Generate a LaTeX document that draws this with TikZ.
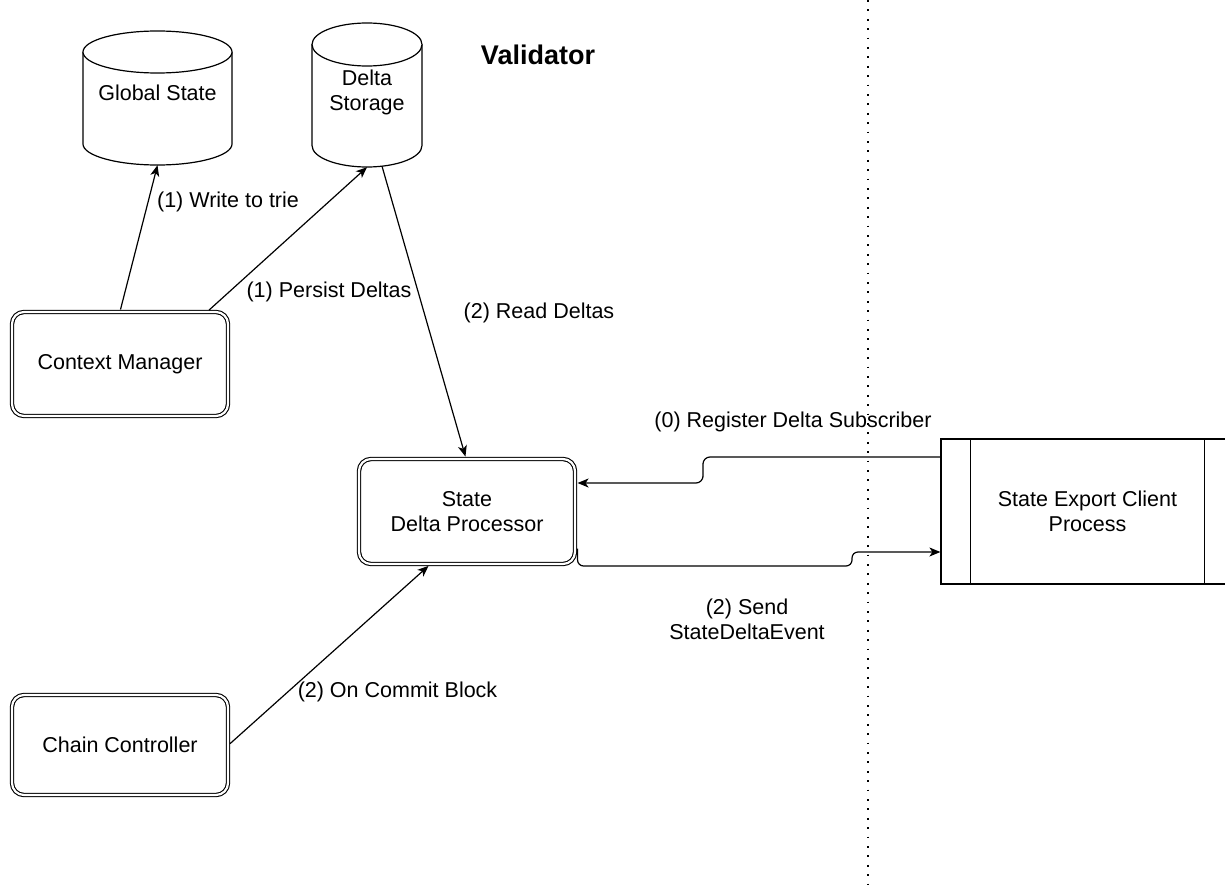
\documentclass[tikz,border=0pt]{standalone}
\usepackage{fontspec}
\setmainfont{Liberation Sans}
\usetikzlibrary{arrows.meta,calc}

% storage cylinder: #1 centre x, #2 top y, #3 bottom y, #4 x radius, #5 y radius
\newcommand\storecyl[5]{%
  \filldraw[cylline] (#1-#4,#2+#5) -- (#1-#4,#3-#5)
    arc[start angle=180,end angle=360,x radius=#4 pt,y radius=#5 pt]
    -- (#1+#4,#2+#5);
  \draw[cylline] (#1,#2+#5) ellipse[x radius=#4 pt,y radius=#5 pt];}

\begin{document}
\begin{tikzpicture}[x=1pt,y=-1pt,
  every node/.style={font=\fontsize{21.5pt}{25pt}\selectfont, align=center, inner sep=0pt},
  comp/.style={draw, double, double distance=2.2pt, line width=1.1pt,
    rounded corners=12pt, minimum width=216pt, minimum height=104pt, fill=white},
  cylline/.style={draw=black, fill=white, line width=1.2pt},
  cylbox/.style={draw=none, minimum width=#1},
  proc/.style={draw, line width=1.2pt, minimum width=293pt, minimum height=145pt},
  conn/.style={draw, line width=1.2pt, -{Stealth[length=11pt,width=9pt,inset=3pt]}},
  sep/.style={draw, line width=1.6pt, dash pattern=on 1.8pt off 7.6pt},
  title/.style={font=\bfseries\fontsize{27pt}{30pt}\selectfont}
]
\useasboundingbox (0,0) rectangle (1225,891);

% dotted process boundary
\coordinate (sepTop) at (868,0);
\coordinate (sepBot) at (868,891);
\draw[sep] (sepTop) -- (sepBot);

% title
\node[title] (validator) at (538,55) {Validator};

% storage
\storecyl{157.5}{31}{165}{74.5}{21}
\node[cylbox=149pt, minimum height=134pt] (gs) at (157.5,98) {};
\node (gsText) at ([yshift=5.5pt]gs.center) {Global State};

\storecyl{367}{23}{167}{55}{21.5}
\node[cylbox=110pt, minimum height=144pt] (ds) at (367,95) {};
\node (dsText) at ([yshift=2.5pt]ds.center) {Delta\\Storage};

% components
\node[comp] (cm) at (120,364) {Context Manager};
\node[comp, minimum height=105pt] (sdp) at (467,511.5) {State\\Delta Processor};
\node[comp, minimum height=100pt] (cc) at (120,745) {Chain Controller};

% external process
\node[proc] (exp) at (1087.5,511.5) {State Export Client\\Process};
\draw[line width=1.2pt] ([xshift=30pt]exp.north west) -- ([xshift=30pt]exp.south west);
\draw[line width=1.2pt] ([xshift=-30pt]exp.north east) -- ([xshift=-30pt]exp.south east);

% connectors
\draw[conn, shorten <=2pt] (cm.north) -- (gs.south);
\draw[conn, shorten <=2pt] ([xshift=-21pt]cm.north east) -- (ds.south);
\draw[conn, shorten >=2pt] ([xshift=15pt,yshift=1pt]ds.south) -- ([xshift=-1pt]sdp.north);
\draw[conn, shorten <=2pt, shorten >=2pt] (cc.east) -- ([xshift=-37pt]sdp.south);
\draw[conn, rounded corners=7pt, shorten >=2pt]
  ([yshift=54.5pt]exp.west) -| (703,470) |- ([yshift=28.5pt]sdp.east);
\draw[conn, rounded corners=6pt]
  ([xshift=2pt,yshift=-37pt]sdp.east) |- (852,566) |- ([yshift=-40.5pt]exp.west);

% connector labels
\node (lWrite) at (228,202) {(1) Write to trie};
\node (lPersist) at (329,292) {(1) Persist Deltas};
\node (lRead) at (539,313) {(2) Read Deltas};
\node (lRegister) at (793,422) {(0) Register Delta Subscriber};
\node (lSend) at (747,619.5) {(2) Send\\StateDeltaEvent};
\node (lCommit) at (397.5,692) {(2) On Commit Block};
\end{tikzpicture}
\end{document}
